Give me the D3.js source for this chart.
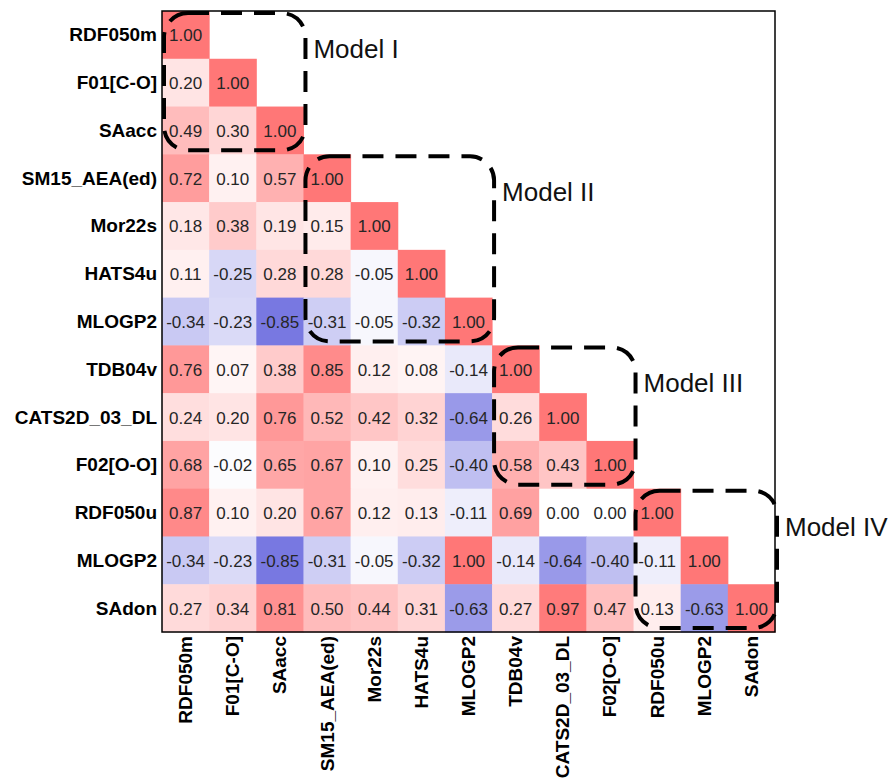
<!DOCTYPE html>
<html>
<head>
<meta charset="utf-8">
<script src="https://cdn.jsdelivr.net/npm/d3@7"></script>
<style>
  body { margin: 0; background: #fff; }
  text { font-family: "Liberation Sans", Arial, sans-serif; }
</style>
</head>
<body>
<svg width="894" height="779"></svg>
<script>
const width = 894;
const height = 779;

const labels = ["RDF050m", "F01[C-O]", "SAacc", "SM15_AEA(ed)", "Mor22s", "HATS4u", "MLOGP2",
  "TDB04v", "CATS2D_03_DL", "F02[O-O]", "RDF050u", "MLOGP2", "SAdon"];

// lower triangle, row by row
const rows = [
  [1.00],
  [0.20, 1.00],
  [0.49, 0.30, 1.00],
  [0.72, 0.10, 0.57, 1.00],
  [0.18, 0.38, 0.19, 0.15, 1.00],
  [0.11, -0.25, 0.28, 0.28, -0.05, 1.00],
  [-0.34, -0.23, -0.85, -0.31, -0.05, -0.32, 1.00],
  [0.76, 0.07, 0.38, 0.85, 0.12, 0.08, -0.14, 1.00],
  [0.24, 0.20, 0.76, 0.52, 0.42, 0.32, -0.64, 0.26, 1.00],
  [0.68, -0.02, 0.65, 0.67, 0.10, 0.25, -0.40, 0.58, 0.43, 1.00],
  [0.87, 0.10, 0.20, 0.67, 0.12, 0.13, -0.11, 0.69, 0.00, 0.00, 1.00],
  [-0.34, -0.23, -0.85, -0.31, -0.05, -0.32, 1.00, -0.14, -0.64, -0.40, -0.11, 1.00],
  [0.27, 0.34, 0.81, 0.50, 0.44, 0.31, -0.63, 0.27, 0.97, 0.47, 0.13, -0.63, 1.00]
];

// model groups: first index and size
const models = [
  { name: "Model I", start: 0, n: 3 },
  { name: "Model II", start: 3, n: 4 },
  { name: "Model III", start: 7, n: 3 },
  { name: "Model IV", start: 10, n: 3 }
];

const margin = { left: 162, top: 11, right: 119, bottom: 147 };
const plotW = width - margin.left - margin.right;
const plotH = height - margin.top - margin.bottom;

const svg = d3.select("svg");
const g = svg.append("g").attr("transform", `translate(${margin.left},${margin.top})`);

const idx = d3.range(labels.length);
const x = d3.scaleBand().domain(idx).range([0, plotW]);
const y = d3.scaleBand().domain(idx).range([0, plotH]);

const color = d3.scaleLinear()
  .domain([-1, 0, 1])
  .range(["#6060dc", "#ffffff", "#ff7777"]);

const cells = [];
rows.forEach((r, i) => r.forEach((v, j) => cells.push({ i, j, v })));

g.selectAll("rect.cell")
  .data(cells)
  .join("rect")
  .attr("class", "cell")
  .attr("x", d => x(d.j))
  .attr("y", d => y(d.i))
  .attr("width", x.bandwidth() + 0.5)
  .attr("height", y.bandwidth() + 0.5)
  .attr("fill", d => color(d.v));

g.selectAll("text.val")
  .data(cells)
  .join("text")
  .attr("class", "val")
  .attr("x", d => x(d.j) + x.bandwidth() / 2)
  .attr("y", d => y(d.i) + y.bandwidth() / 2 + 1)
  .attr("text-anchor", "middle")
  .attr("dominant-baseline", "central")
  .attr("fill", "#262626")
  .style("font-size", "17px")
  .text(d => d.v.toFixed(2));

// frame
g.append("rect")
  .attr("width", plotW)
  .attr("height", plotH)
  .attr("fill", "none")
  .attr("stroke", "#000")
  .attr("stroke-width", 1.5);

// y labels
g.selectAll("text.ylab")
  .data(idx)
  .join("text")
  .attr("class", "ylab")
  .attr("x", -5)
  .attr("y", d => y(d) + y.bandwidth() / 2)
  .attr("text-anchor", "end")
  .attr("dominant-baseline", "central")
  .style("font-size", "19px")
  .style("font-weight", "bold")
  .text(d => labels[d]);

// x labels
g.selectAll("text.xlab")
  .data(idx)
  .join("text")
  .attr("class", "xlab")
  .attr("transform", d => `translate(${x(d) + x.bandwidth() / 2},${plotH + 4}) rotate(-90)`)
  .attr("text-anchor", "end")
  .attr("dominant-baseline", "central")
  .style("font-size", "19px")
  .style("font-weight", "bold")
  .text(d => labels[d]);

// dashed rounded boxes around each model
models.forEach(m => {
  const bx = x(m.start) + 2;
  const by = y(m.start) + 2;
  const bw = x.bandwidth() * m.n;
  const bh = y.bandwidth() * m.n - 6;
  g.append("rect")
    .attr("x", bx)
    .attr("y", by)
    .attr("width", bw)
    .attr("height", bh)
    .attr("rx", 24)
    .attr("fill", "none")
    .attr("stroke", "#000")
    .attr("stroke-width", 4)
    .attr("stroke-dasharray", "21,12");
  g.append("text")
    .attr("x", bx + bw + 8)
    .attr("y", by + 36)
    .attr("dominant-baseline", "central")
    .style("font-size", "26px")
    .attr("fill", "#111")
    .text(m.name);
});
</script>
</body>
</html>
